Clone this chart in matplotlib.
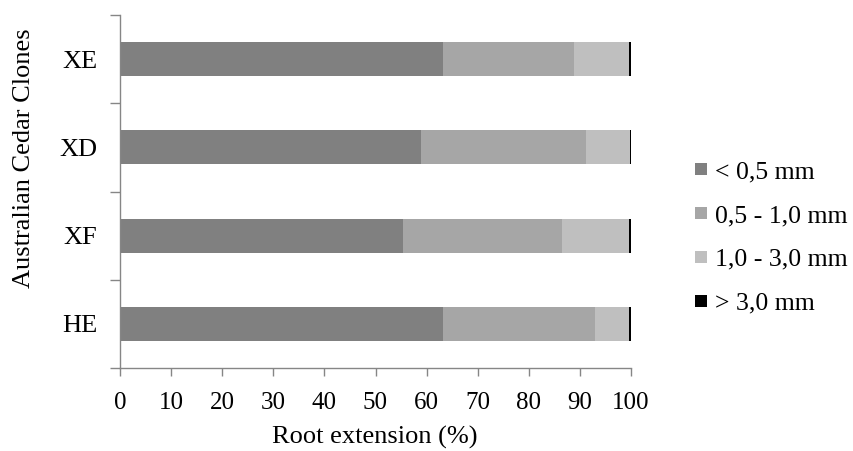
import matplotlib
matplotlib.use("Agg")
import matplotlib.pyplot as plt
from matplotlib.lines import Line2D
import numpy as np

clones = ["HE", "XF", "XD", "XE"]
lt05 = [63.2, 55.4, 59.0, 63.2]
r05_10 = [29.7, 31.0, 32.1, 25.6]
r10_30 = [6.8, 13.3, 8.7, 10.9]
gt30 = [0.3, 0.3, 0.2, 0.3]
series_labels = ["< 0,5 mm", "0,5 - 1,0 mm", "1,0 - 3,0 mm", "> 3,0 mm"]
colors = ["#808080", "#a6a6a6", "#bfbfbf", "#000000"]
xticks = list(range(0, 101, 10))

FS = 19
plt.rcParams['font.family'] = ['Liberation Serif', 'DejaVu Serif']
fig = plt.figure(figsize=(8.54, 4.51), dpi=100)
ax = fig.add_axes([120/854, 1-368/451, 511/854, 353/451])

y = np.arange(len(clones))
left = np.zeros(len(clones))
for vals, lab, col in zip([lt05, r05_10, r10_30, gt30], series_labels, colors):
    ax.barh(y, vals, left=left, height=0.385, color=col, label=lab, edgecolor='none')
    left += np.array(vals)

ax.set_xlim(0, 100)
ax.set_ylim(-0.5, 3.5)
ax.set_xticks(xticks)
ax.set_xticklabels([str(t) for t in xticks], fontsize=18)
ax.set_yticks(y)
ax.set_yticklabels(clones, fontsize=FS)
ax.tick_params(axis='y', which='major', length=0, pad=16.5)
ax.set_yticks(np.arange(-0.5, 4, 1), minor=True)
ax.tick_params(axis='y', which='minor', length=7.2, color='#868686', width=1)
ax.tick_params(axis='x', length=5.5, color='#868686', width=1, pad=12)
for s in ['top', 'right']:
    ax.spines[s].set_visible(False)
for s in ['left', 'bottom']:
    ax.spines[s].set_color('#868686')
    ax.spines[s].set_linewidth(1)

fig.text(375/854, 1-444/451, "Root extension (%)", fontsize=FS, ha='center', va='baseline')
fig.text(24/854, 1-158.5/451, "Australian Cedar Clones", fontsize=FS, ha='center', va='center',
         rotation=90)

handles = [Line2D([], [], linestyle='none', marker='s', markersize=8.5, color=c,
                  markeredgewidth=0) for c in colors]
leg = ax.legend(handles, series_labels, loc='center left',
                bbox_to_anchor=((695-120)/511, 0.37), frameon=False,
                fontsize=18.5, handlelength=0.47, handletextpad=0.3,
                labelspacing=0.81, borderaxespad=0, borderpad=0)
fig.savefig("out.png", dpi=100)
